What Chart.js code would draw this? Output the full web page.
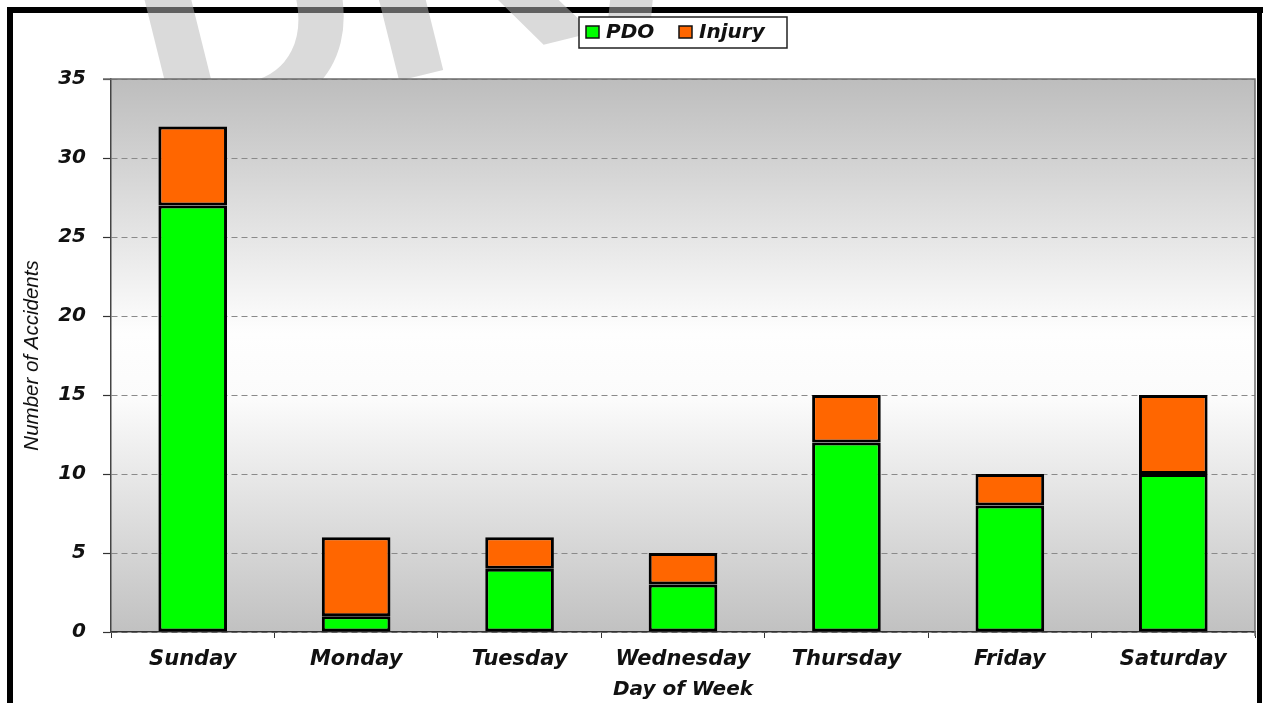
<!DOCTYPE html>
<html><head><meta charset="utf-8">
<script src="https://cdn.jsdelivr.net/npm/chart.js@4/dist/chart.umd.min.js"></script>
<style>html,body{margin:0;padding:0;background:#fff;overflow:hidden}#wrap{width:1263px;height:703px;position:relative}</style>
</head><body><div id="wrap"><canvas id="c" width="1263" height="703"></canvas></div>
<script>
const days = ['Sunday','Monday','Tuesday','Wednesday','Thursday','Friday','Saturday'];
const pdo = [27,1,4,3,12,8,10];
const injury = [5,5,2,2,3,2,5];
const yTicks = [0,5,10,15,20,25,30,35];
const seriesNames = ['PDO','Injury'];
const seriesColors = ['#00ff00','#ff6600'];
const xTitle = 'Day of Week';
const yTitle = 'Number of Accidents';
const watermark = 'DRAFT';

const FONT = 'DejaVu Sans';
const txt = '#111';

const deco = {
  id: 'deco',
  beforeDraw(chart) {
    const {ctx, chartArea: a} = chart;
    ctx.save();
    ctx.fillStyle = '#fff';
    ctx.fillRect(0, 0, chart.width, chart.height);
    // outer frame
    ctx.fillStyle = '#000';
    ctx.fillRect(7, 7, 1256, 6);
    ctx.fillRect(7, 7, 6, 696);
    ctx.fillRect(1257, 7, 5, 696);
    // watermark (behind the plot area)
    ctx.save();
    ctx.translate(158, 141);
    ctx.rotate(-14 * Math.PI / 180);
    ctx.font = 'bold 315px "Liberation Sans"';
    ctx.fillStyle = 'rgba(185,185,185,0.52)';
    ctx.textBaseline = 'alphabetic';
    ctx.fillText(watermark, 0, 0);
    ctx.restore();
    // plot area gradient
    const g = ctx.createLinearGradient(0, a.top, 0, a.bottom);
    g.addColorStop(0, '#bdbdbd');
    g.addColorStop(0.46, '#fefefe');
    g.addColorStop(0.58, '#fbfbfb');
    g.addColorStop(1, '#c1c1c1');
    ctx.fillStyle = g;
    ctx.fillRect(a.left, a.top, a.right - a.left, a.bottom - a.top);
    ctx.restore();
  },
  afterDatasetsDraw(chart) {
    const {ctx, chartArea: a} = chart;
    ctx.save();
    // top and right plot border
    ctx.strokeStyle = '#6e6e6e';
    ctx.lineWidth = 1.5;
    ctx.beginPath();
    ctx.moveTo(a.left - 8, a.top);
    ctx.lineTo(a.right, a.top);
    ctx.lineTo(a.right, a.bottom + 4);
    ctx.stroke();
    ctx.restore();
    // legend
    ctx.save();
    const lx = 579, ly = 17, lw = 208, lh = 31;
    ctx.fillStyle = '#fff';
    ctx.fillRect(lx, ly, lw, lh);
    ctx.strokeStyle = '#222';
    ctx.lineWidth = 1.5;
    ctx.strokeRect(lx, ly, lw, lh);
    ctx.font = 'italic bold 20px "' + FONT + '"';
    ctx.textBaseline = 'middle';
    ctx.textAlign = 'left';
    const ds = chart.data.datasets;
    const sx = [586, 679];
    ds.forEach((d, i) => {
      ctx.fillStyle = d.backgroundColor;
      ctx.fillRect(sx[i], 26, 13, 12);
      ctx.strokeStyle = '#111';
      ctx.lineWidth = 1.5;
      ctx.strokeRect(sx[i], 26, 13, 12);
      ctx.fillStyle = txt;
      ctx.fillText(d.label, sx[i] + 20, 33);
    });
    ctx.restore();
  }
};

new Chart(document.getElementById('c'), {
  type: 'bar',
  data: {
    labels: days,
    datasets: [
      {label: seriesNames[0], data: pdo, backgroundColor: seriesColors[0]},
      {label: seriesNames[1], data: injury, backgroundColor: seriesColors[1]}
    ]
  },
  options: {
    responsive: false,
    animation: false,
    devicePixelRatio: 1,
    layout: {padding: {top: 79, right: 8, left: 0, bottom: 0}},
    datasets: {bar: {barPercentage: 0.42, categoryPercentage: 1.0, borderWidth: 3, borderColor: '#000', borderSkipped: false}},
    plugins: {legend: {display: false}, tooltip: {enabled: false}},
    scales: {
      x: {
        stacked: true,
        grid: {offset: true, drawOnChartArea: false, drawTicks: true, tickLength: 6, color: '#333', tickColor: '#333'},
        border: {display: true, color: '#333', width: 1.5},
        ticks: {color: txt, padding: 9, font: {family: FONT, size: 21, weight: 'bold', style: 'italic'}},
        title: {display: true, text: xTitle, color: txt, padding: {top: 0, bottom: 1}, font: {family: FONT, size: 20, weight: 'bold', style: 'italic'}},
        afterFit(s) { s.height = 71; }
      },
      y: {
        stacked: true,
        min: 0, max: 35,
        afterBuildTicks(s) { s.ticks = yTicks.map(v => ({value: v})); },
        grid: {color: '#8a8a8a', lineWidth: 1, tickColor: '#333', tickLength: 8, tickWidth: 1.2},
        border: {display: true, color: '#444', width: 1.5, dash: [6, 4]},
        ticks: {color: txt, padding: 17, font: {family: FONT, size: 20, weight: 'bold', style: 'italic'}},
        title: {display: true, text: yTitle, color: txt, padding: {top: 20, bottom: 0}, font: {family: 'Liberation Sans', size: 20.5, style: 'italic'}},
        afterFit(s) { s.width = 111; }
      }
    }
  },
  plugins: [deco]
});
</script>
</body></html>
